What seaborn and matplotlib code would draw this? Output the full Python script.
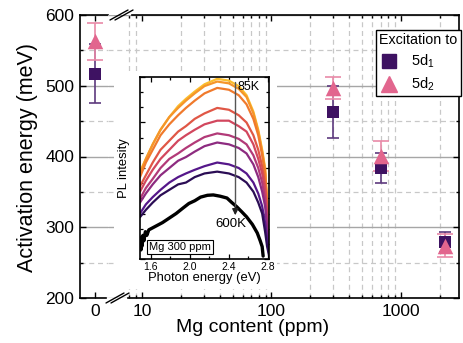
import numpy as np
import pandas as pd
import matplotlib
matplotlib.use('Agg')
import matplotlib.pyplot as plt
import seaborn as sns
from matplotlib.lines import Line2D
from matplotlib.patches import Rectangle
from matplotlib.ticker import FixedLocator, FixedFormatter, NullFormatter, AutoMinorLocator, MultipleLocator

sns.set_theme(style='white')
plt.rcParams['font.family'] = ['Liberation Sans', 'DejaVu Sans']
plt.rcParams['mathtext.fontset'] = 'custom'
plt.rcParams['mathtext.rm'] = 'Liberation Sans'
plt.rcParams['mathtext.it'] = 'Liberation Sans:italic'
plt.rcParams['text.color'] = 'black'
plt.rcParams['axes.labelcolor'] = 'black'
plt.rcParams['xtick.color'] = 'black'
plt.rcParams['ytick.color'] = 'black'
plt.rcParams['legend.labelcolor'] = 'black'

# ---------------- main data ----------------
mg_content = [0, 300, 700, 2200]
e_5d1 = [517, 463, 384, 279]
err_5d1 = [42, 37, 21, 14]
e_5d2 = [563, 497, 401, 274]
err_5d2 = [26, 16, 21, 16]
series_labels = ['5d$_1$', '5d$_2$']
x_major = [10, 100, 1000]
x_major_labels = ['10', '100', '1000']
x_minor = [8, 9, 20, 30, 40, 50, 60, 70, 80, 90, 200, 300, 400, 500, 600, 700, 800, 900, 2000]

# ---------------- inset data ----------------
E_grid = [1.49, 1.55, 1.62, 1.70, 1.79, 1.88, 1.96, 2.05, 2.15, 2.28, 2.40, 2.50, 2.58, 2.65, 2.70, 2.74, 2.77, 2.79, 2.81]
pl_c1 = [0.48, 0.55, 0.63, 0.71, 0.78, 0.84, 0.88, 0.92, 0.96, 0.99, 0.98, 0.95, 0.90, 0.81, 0.71, 0.60, 0.50, 0.33, 0.08]
pl_c2 = [0.47, 0.55, 0.63, 0.71, 0.78, 0.83, 0.87, 0.91, 0.95, 0.975, 0.965, 0.935, 0.89, 0.80, 0.70, 0.59, 0.49, 0.32, 0.08]
pl_c3 = [0.45, 0.53, 0.60, 0.68, 0.74, 0.79, 0.83, 0.87, 0.91, 0.94, 0.93, 0.90, 0.85, 0.77, 0.68, 0.57, 0.47, 0.31, 0.08]
pl_c4 = [0.40, 0.46, 0.53, 0.60, 0.65, 0.70, 0.73, 0.77, 0.80, 0.83, 0.82, 0.79, 0.75, 0.68, 0.60, 0.51, 0.41, 0.27, 0.07]
pl_c5 = [0.37, 0.43, 0.49, 0.55, 0.60, 0.65, 0.68, 0.71, 0.74, 0.76, 0.76, 0.73, 0.70, 0.63, 0.55, 0.47, 0.38, 0.25, 0.06]
pl_c6 = [0.33, 0.39, 0.44, 0.50, 0.55, 0.58, 0.61, 0.64, 0.67, 0.69, 0.68, 0.66, 0.63, 0.57, 0.50, 0.42, 0.33, 0.21, 0.05]
pl_c7 = [0.31, 0.36, 0.41, 0.46, 0.50, 0.54, 0.56, 0.59, 0.62, 0.64, 0.63, 0.61, 0.58, 0.52, 0.45, 0.37, 0.29, 0.18, 0.04]
pl_c8 = [0.25, 0.30, 0.34, 0.38, 0.42, 0.45, 0.47, 0.49, 0.51, 0.53, 0.52, 0.50, 0.47, 0.42, 0.36, 0.29, 0.20, 0.11, 0.03]
pl_c9 = [0.23, 0.27, 0.31, 0.35, 0.38, 0.41, 0.42, 0.45, 0.47, 0.48, 0.47, 0.45, 0.42, 0.37, 0.31, 0.25, 0.15, 0.07, 0.02]
E_600 = [1.495, 1.50, 1.505, 1.51, 1.52, 1.53, 1.545, 1.56, 1.58, 1.65, 1.72, 1.79, 1.86, 1.93, 1.99, 2.05,
         2.11, 2.18, 2.24, 2.31, 2.38, 2.43, 2.48, 2.53, 2.58, 2.64, 2.69, 2.72, 2.74, 2.75]
I_600 = [0.10, 0.05, 0.12, 0.07, 0.13, 0.10, 0.15, 0.13, 0.16, 0.18, 0.20, 0.225, 0.25, 0.28, 0.305, 0.32,
         0.34, 0.35, 0.352, 0.345, 0.335, 0.31, 0.287, 0.26, 0.232, 0.19, 0.143, 0.10, 0.068, 0.016]
curve_colors = ['#fbbd2c', '#f5952a', '#f07a2c', '#e05746', '#d2475e', '#b23a78', '#8d2b80', '#55178a', '#2b0d55']
inset_xticks = [1.6, 2.0, 2.4, 2.8]

# ---------------- colours ----------------
c_sq = '#3e1262'
c_sq_err = '#5e3a7e'
c_tri = '#e2668e'
c_tri_err = '#e98aa8'

W, H = 464, 343
def fx(px):
    return px / W
def fy(py):
    return 1 - py / H

fig = plt.figure(figsize=(W / 100, H / 100), dpi=100)
fig.patch.set_facecolor('white')

ax0 = fig.add_axes([fx(80), fy(298), 28 / W, 283 / H])
ax1 = fig.add_axes([fx(108), fy(298), 351 / W, 283 / H])

df = pd.DataFrame({'mg': mg_content, 'e1': e_5d1, 'r1': err_5d1, 'e2': e_5d2, 'r2': err_5d2})
d0 = df[df.mg == 0]
d1 = df[df.mg > 0]

for ax, d in ((ax0, d0), (ax1, d1)):
    ax.errorbar(d.mg, d.e1, yerr=d.r1, fmt='none', ecolor=c_sq_err, elinewidth=1.2, capsize=4.4, capthick=1.2, zorder=2)
    ax.errorbar(d.mg, d.e2, yerr=d.r2, fmt='none', ecolor=c_tri_err, elinewidth=1.2, capsize=5.8, capthick=1.2, zorder=2.5)
    sns.scatterplot(x=d.mg, y=d.e1, marker='s', s=76, color=c_sq, edgecolor=c_sq, linewidth=0, ax=ax, zorder=3)
    sns.scatterplot(x=d.mg, y=d.e2, marker='^', s=125, color=c_tri, edgecolor=c_tri, linewidth=0, ax=ax, zorder=4)
    ax.set_ylim(200, 600)
    ax.set_xlabel('')
    ax.set_ylabel('')
    ax.yaxis.set_major_locator(MultipleLocator(100))
    ax.yaxis.set_minor_locator(MultipleLocator(50))
    ax.yaxis.grid(True, which='major', color='#a6a6a6', lw=1.0, ls='-')
    ax.yaxis.grid(True, which='minor', color='#c8c8c8', lw=0.9, ls=(0, (4, 3)))
    ax.set_axisbelow(True)
    for s in ax.spines.values():
        s.set_color('black')
        s.set_linewidth(1.2)

# left (0) axis
ax0.set_xlim(-1, 0.867)
ax0.set_xticks([0])
ax0.set_xticklabels(['0'])
ax0.xaxis.grid(False)
ax0.spines['right'].set_visible(False)
ax0.spines['bottom'].set_bounds(-1, 0.73)
ax0.spines['top'].set_bounds(-1, 0.85)
ax0.tick_params(axis='both', which='both', direction='in', color='black', width=1)
ax0.tick_params(axis='both', which='major', length=4, labelsize=12.5, pad=4)
ax0.tick_params(axis='y', which='minor', length=2)
ax0.tick_params(left=True, right=False, bottom=True, top=True, which='both')
ax0.tick_params(axis='y', which='both', labelleft=True)

# right (log) axis
ax1.set_xscale('log')
ax1.set_xlim(5.465, 2805)
ax1.xaxis.set_major_locator(FixedLocator(x_major))
ax1.xaxis.set_major_formatter(FixedFormatter(x_major_labels))
ax1.xaxis.set_minor_locator(FixedLocator(x_minor))
ax1.xaxis.set_minor_formatter(NullFormatter())
ax1.xaxis.grid(True, which='minor', color='#c8c8c8', lw=0.9, ls=(0, (4, 3)))
ax1.xaxis.grid(False, which='major')
ax1.spines['left'].set_visible(False)
ax1.spines['bottom'].set_bounds(7.8, 2805)
ax1.spines['top'].set_bounds(8.3, 2805)
ax1.tick_params(axis='both', which='both', direction='in', color='black', width=1)
ax1.tick_params(axis='both', which='major', length=4, labelsize=12.5, pad=4)
ax1.tick_params(axis='both', which='minor', length=2)
ax1.tick_params(left=False, right=True, bottom=True, top=True, labelleft=False, which='both')

# break marks
for (xa, ya, xb, yb) in [(106, 303, 124, 293), (111, 303, 129, 293), (110, 20, 128, 10), (115, 20, 133, 10)]:
    fig.add_artist(Line2D([fx(xa), fx(xb)], [fy(ya), fy(yb)], transform=fig.transFigure, color='black', lw=1.0, zorder=5))

fig.text(fx(28), fy(158), 'Activation energy (meV)', rotation=90, ha='center', va='center', fontsize=15.5, color='black')
fig.text(fx(253), fy(328), 'Mg content (ppm)', ha='center', va='center', fontsize=14, color='black')

# legend
handles = [Line2D([], [], marker='s', ls='none', color=c_sq, ms=9.5),
           Line2D([], [], marker='^', ls='none', color=c_tri, ms=11)]
leg = ax1.legend(handles, series_labels, title='Excitation to', loc='upper right',
                 bbox_to_anchor=(fx(460.5), fy(30)), bbox_transform=fig.transFigure,
                 frameon=True, fancybox=False, edgecolor='black', framealpha=1,
                 fontsize=10.5, title_fontsize=10.3, borderpad=0.2, handletextpad=0.9,
                 labelspacing=0.4, handlelength=1.3, borderaxespad=0)
leg._legend_box.align = 'left'
leg.get_frame().set_linewidth(1.0)
leg.get_title().set_color('black')
leg.set_zorder(10)

# white patch behind the inset
fig.add_artist(Rectangle((fx(114), fy(289)), 163 / W, 218 / H, transform=fig.transFigure,
                         facecolor='white', edgecolor='none', zorder=1))

# ---------------- inset ----------------
axin = fig.add_axes([fx(140), fy(259), 129 / W, 182 / H])
axin.set_zorder(3)
curves = [pl_c1, pl_c2, pl_c3, pl_c4, pl_c5, pl_c6, pl_c7, pl_c8, pl_c9]
rows = []
for k, c in enumerate(curves):
    for e, v in zip(E_grid, c):
        rows.append((e, v, k))
dfin = pd.DataFrame(rows, columns=['E', 'I', 'curve'])
sns.lineplot(data=dfin, x='E', y='I', hue='curve', palette=curve_colors, estimator=None, sort=False,
             legend=False, lw=1.6, ax=axin)
sns.lineplot(x=E_600, y=I_600, color='black', lw=2.4, estimator=None, sort=False, ax=axin)
axin.set_xlim(1.49, 2.81)
axin.set_ylim(0, 1.0)
axin.set_xticks(inset_xticks)
axin.set_xticklabels([f'{v:.1f}' for v in inset_xticks])
axin.xaxis.set_minor_locator(MultipleLocator(0.2))
axin.yaxis.set_major_locator(MultipleLocator(0.25))
axin.yaxis.set_minor_locator(AutoMinorLocator(3))
axin.set_yticklabels([])
axin.tick_params(axis='both', which='both', direction='in', color='black', width=0.9,
                 left=True, right=True, top=True, bottom=True)
axin.tick_params(axis='both', which='major', length=3.5, labelsize=7.5, pad=2)
axin.tick_params(axis='both', which='minor', length=2)
for s in axin.spines.values():
    s.set_color('black')
    s.set_linewidth(1.2)
axin.set_xlabel('Photon energy (eV)', fontsize=9.4, labelpad=0)
axin.set_ylabel('PL intesity', fontsize=9.4, labelpad=4)

axin.plot([2.465, 2.465], [0.27, 0.975], color='#555555', lw=1.0)
axin.annotate('', xy=(2.465, 0.225), xytext=(2.465, 0.30),
              arrowprops=dict(arrowstyle='-|>', color='#222222', lw=1.0, mutation_scale=9))
axin.text(2.49, 0.945, '85K', ha='left', va='center', fontsize=9)
axin.text(2.42, 0.19, '600K', ha='center', va='center', fontsize=9.5)
axin.text(1.58, 0.066, 'Mg 300 ppm', ha='left', va='center', fontsize=8,
          bbox=dict(boxstyle='square,pad=0.2', facecolor='white', edgecolor='black', lw=0.8))

fig.savefig('out.png', dpi=100, facecolor='white')
